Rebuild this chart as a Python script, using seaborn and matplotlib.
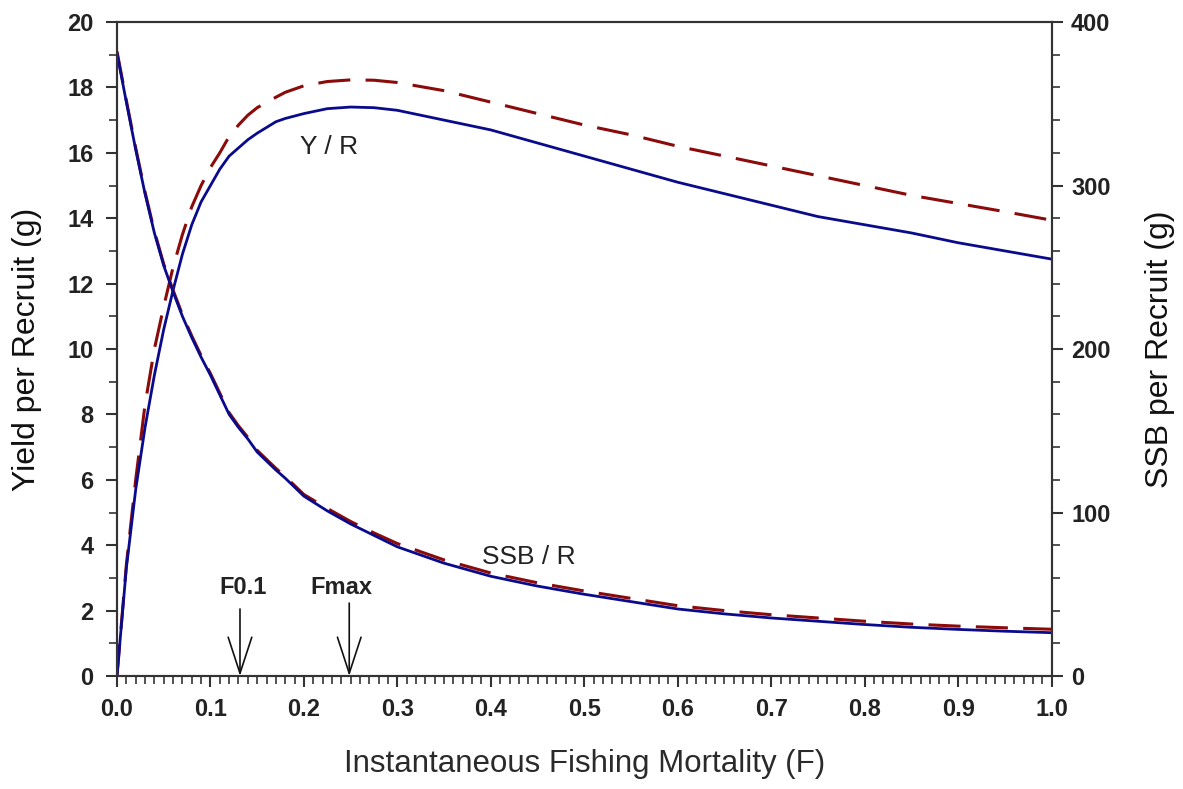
import numpy as np
import pandas as pd
import matplotlib
matplotlib.use("Agg")
import matplotlib.pyplot as plt
from matplotlib.ticker import MultipleLocator
import seaborn as sns

# fishing mortality grid
F = [0.0, 0.01, 0.02, 0.03, 0.04, 0.05, 0.06, 0.07, 0.08, 0.09, 0.10, 0.11, 0.12,
     0.13, 0.14, 0.15, 0.17, 0.18, 0.20, 0.225, 0.25, 0.275, 0.30, 0.35, 0.40,
     0.45, 0.50, 0.55, 0.60, 0.65, 0.70, 0.75, 0.80, 0.85, 0.90, 0.95, 1.00]

# yield per recruit (g), left axis
ypr_solid = [0.0, 3.3, 5.7, 7.6, 9.2, 10.6, 11.8, 12.9, 13.8, 14.5, 15.0, 15.5, 15.9,
             16.15, 16.4, 16.6, 16.95, 17.05, 17.2, 17.35, 17.4, 17.38, 17.3, 17.0, 16.7,
             16.3, 15.9, 15.5, 15.1, 14.75, 14.4, 14.05, 13.8, 13.55, 13.25, 13.0, 12.75]
ypr_dash = [0.0, 3.4, 6.0, 8.3, 10.0, 11.3, 12.5, 13.5, 14.35, 15.0, 15.55, 16.0, 16.5,
            16.85, 17.15, 17.38, 17.7, 17.85, 18.05, 18.18, 18.23, 18.22, 18.15, 17.9, 17.55,
            17.2, 16.85, 16.55, 16.2, 15.9, 15.6, 15.3, 15.0, 14.7, 14.45, 14.2, 13.94]

# spawning stock biomass per recruit (g), right axis
ssb_solid = [381, 351, 322, 295, 271, 251, 235, 220, 207, 195, 184, 172, 160,
             152, 145, 137, 126, 121, 110, 101, 93, 86, 79, 69, 61,
             55, 50, 45.5, 41, 38, 35.5, 33.5, 31.5, 29.8, 28.5, 27.4, 26.5]
ssb_dash = [382, 352, 323, 296, 272, 252, 236, 221, 208, 196, 185, 173, 161,
            153, 146, 138, 127, 122, 111, 102.5, 94.5, 87.5, 81, 71, 63,
            57, 52, 47.5, 43, 40, 37.5, 35.5, 33.5, 31.8, 30.5, 29.5, 28.6]

ref_names = ["F0.1", "Fmax"]
ref_F = [0.1316, 0.2485]

df = pd.DataFrame({"F": F, "ypr_solid": ypr_solid, "ypr_dash": ypr_dash,
                   "ssb_solid": ssb_solid, "ssb_dash": ssb_dash})

sns.set_style("ticks")
plt.rcParams["font.family"] = ["Liberation Sans", "DejaVu Sans"]

blue = "#0a0a8c"
red = "#8b0a0a"
axis_col = "#333333"
dash = (0, (10.5, 5))

fig = plt.figure(figsize=(11.83, 7.89), dpi=100)
ax = fig.add_axes([0.0989, 0.1432, 0.7900, 0.8289])
ax2 = ax.twinx()

sns.lineplot(data=df, x="F", y="ypr_dash", ax=ax, color=red, lw=2.2, linestyle=dash)
sns.lineplot(data=df, x="F", y="ypr_solid", ax=ax, color=blue, lw=2.0)
sns.lineplot(data=df, x="F", y="ssb_dash", ax=ax2, color=red, lw=2.2, linestyle=dash)
sns.lineplot(data=df, x="F", y="ssb_solid", ax=ax2, color=blue, lw=2.0)

ax.set_xlim(0, 1)
ax.set_ylim(0, 20)
ax2.set_ylim(0, 400)

ax.xaxis.set_major_locator(MultipleLocator(0.1))
ax.xaxis.set_minor_locator(MultipleLocator(0.01))
ax.yaxis.set_major_locator(MultipleLocator(2))
ax.yaxis.set_minor_locator(MultipleLocator(1))
ax2.yaxis.set_major_locator(MultipleLocator(100))
ax2.yaxis.set_minor_locator(MultipleLocator(20))
ax.xaxis.set_major_formatter(plt.FuncFormatter(lambda v, p: f"{v:.1f}"))

for a in (ax, ax2):
    for s in a.spines.values():
        s.set_color(axis_col)
        s.set_linewidth(1.5)
    a.tick_params(which="major", length=8, width=1.5, color=axis_col,
                  labelsize=17, labelcolor="#222222")
    a.tick_params(which="minor", length=5.5, width=1.2, color=axis_col)
    for lab in a.get_xticklabels() + a.get_yticklabels():
        lab.set_fontweight("bold")
ax.tick_params(axis="x", which="both", top=False)
ax.tick_params(axis="x", which="major", pad=8)
ax.tick_params(axis="y", which="major", pad=9)
ax2.tick_params(axis="y", which="major", pad=6)

ax.set_xlabel("Instantaneous Fishing Mortality (F)", fontsize=22.5, color="#2a2a2a")
ax.xaxis.set_label_coords(0.5, -0.111)
ax.set_ylabel("Yield per Recruit (g)", fontsize=23, color="#111111")
ax.yaxis.set_label_coords(-0.080, 0.5)
ax2.set_ylabel("SSB per Recruit (g)", fontsize=23, color="#111111")
ax2.yaxis.set_label_coords(1.100, 0.5)

ax.text(0.2267, 16.18, "Y / R", fontsize=19, color="#222222", ha="center", va="center")
ax.text(0.4406, 3.64, "SSB / R", fontsize=19, color="#222222", ha="center", va="center")

label_x = [0.1348, 0.2406]
arrow_top = [2.05, 2.23]
for name, f, lx, top in zip(ref_names, ref_F, label_x, arrow_top):
    ax.text(lx, 2.35, name, fontsize=17, fontweight="bold", color="#222222",
            ha="center", va="bottom")
    ax.annotate("", xy=(f, 0), xytext=(f, top),
                arrowprops=dict(arrowstyle="->,head_length=2.6,head_width=0.85",
                                color="#111111", lw=1.2, mutation_scale=10,
                                shrinkA=0, shrinkB=0))

fig.savefig("out.png", dpi=100)
